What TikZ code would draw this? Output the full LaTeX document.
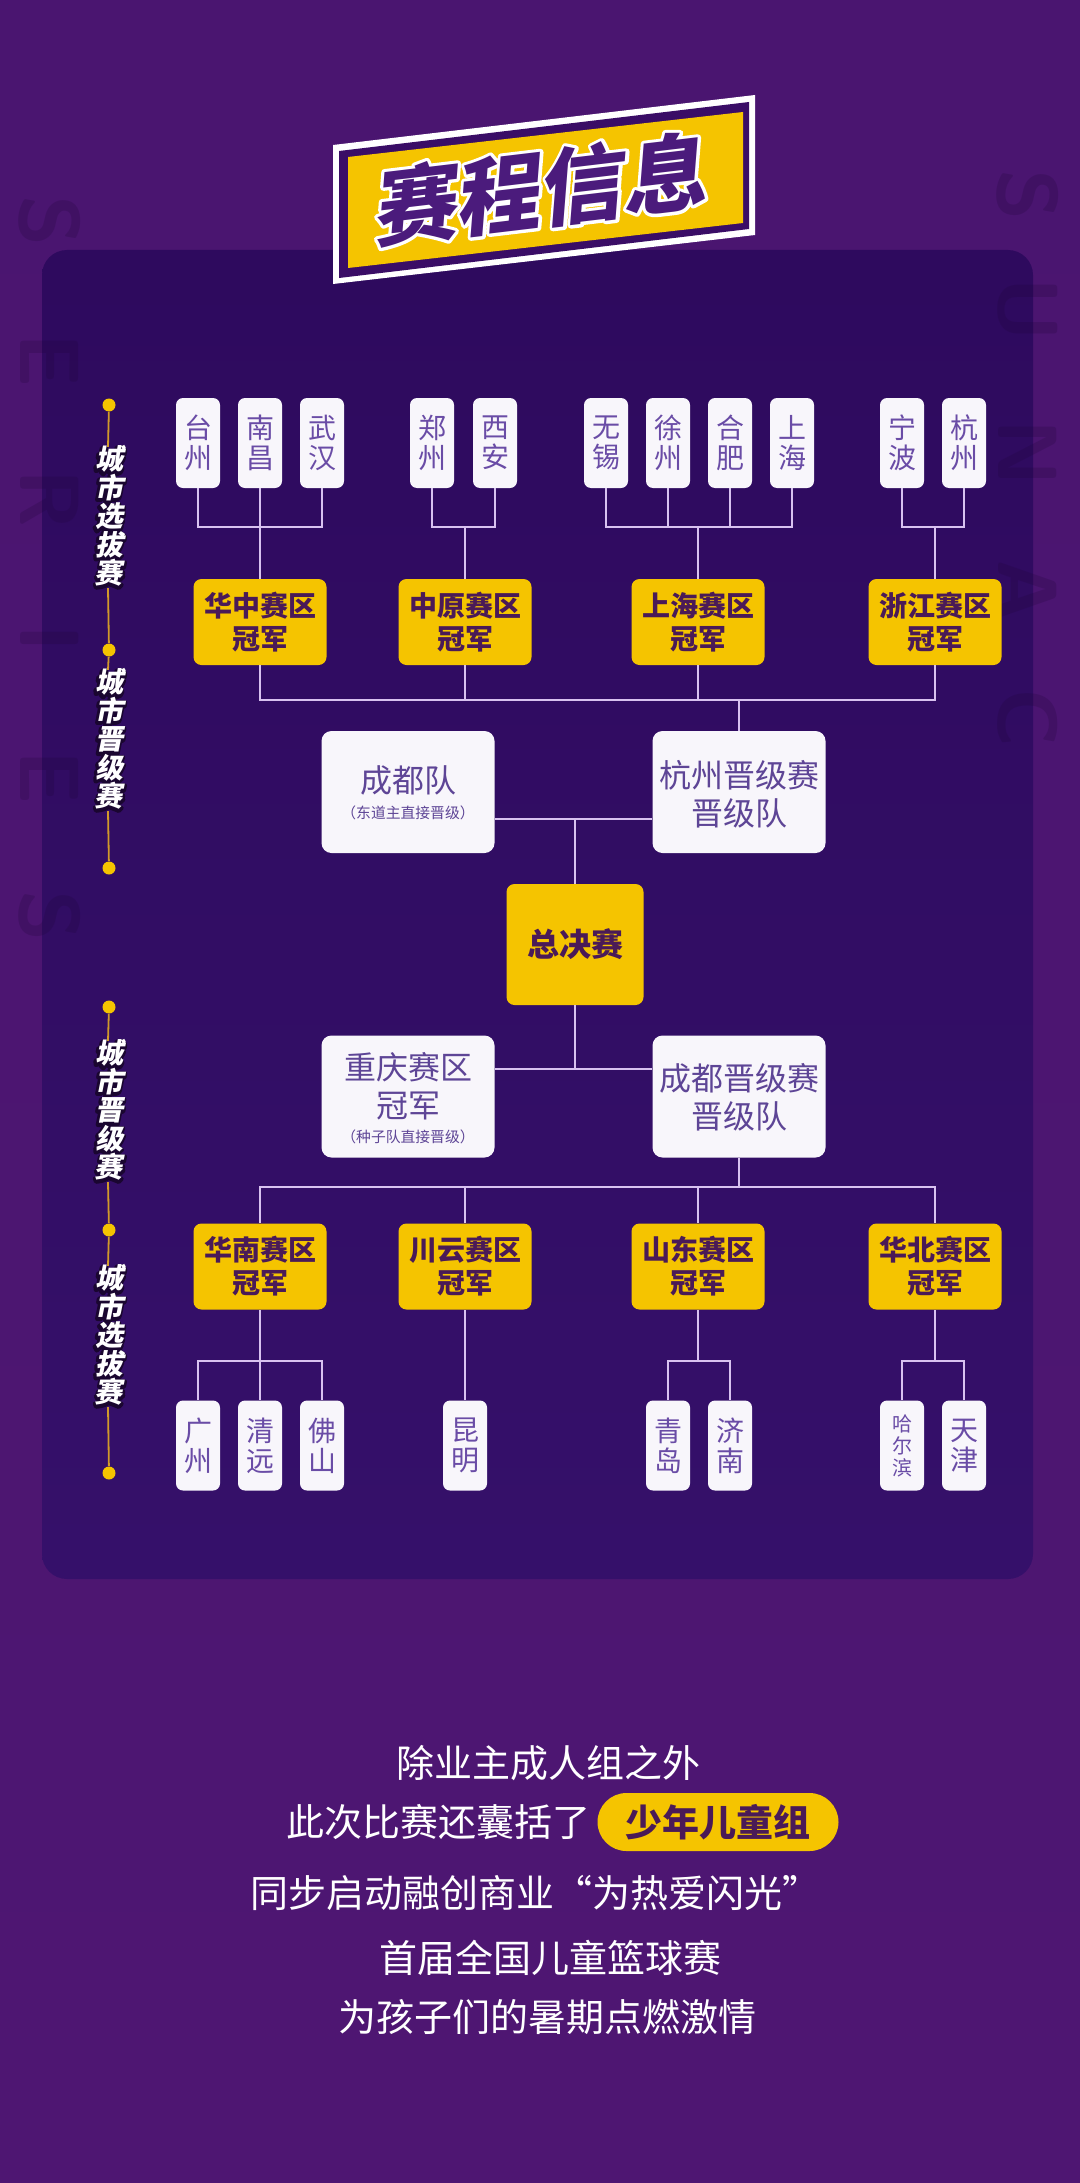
\documentclass[tikz,border=0pt]{standalone}
\usepackage{fontspec}
\usetikzlibrary{calc}
\newfontfamily\cjk{Noto Sans CJK SC}
\newfontfamily\cjks{Noto Sans CJK SC}[FakeSlant=0.2]
\newcommand\strokeon[1]{\special{pdf:literal direct 2 Tr #1 w 1 j}}
\definecolor{bgtop}{HTML}{4A1570}
\definecolor{bgbot}{HTML}{4E1672}
\definecolor{panelt}{HTML}{2E0A5E}
\definecolor{panelb}{HTML}{35106A}
\definecolor{boxw}{HTML}{F8F6FB}
\definecolor{citytxt}{HTML}{6A4CA6}
\definecolor{semitxt}{HTML}{5E4596}
\definecolor{gold}{HTML}{F5C400}
\definecolor{champtxt}{HTML}{4A1A57}
\definecolor{conn}{HTML}{D8C2F0}
\definecolor{tline}{HTML}{D29A2A}
\definecolor{titlepurple}{HTML}{4B1B7C}
\definecolor{bandp}{HTML}{3A0D66}
\definecolor{outl}{HTML}{1A0630}
\definecolor{decocol}{HTML}{1E0538}
\tikzset{
  cn/.style={draw=conn, line width=1.1pt},
  city/.style={fill=boxw, rounded corners=3.5pt, minimum width=22pt, minimum height=45pt, inner sep=0pt, text=citytxt, font=\cjk\fontsize{14}{15}\selectfont, align=center},
  citysmall/.style={city, font=\cjk\fontsize{10}{11}\selectfont},
  champ/.style={fill=gold, rounded corners=4pt, minimum width=66.5pt, minimum height=43pt, inner sep=0pt, text=champtxt, font=\cjk\bfseries\fontsize{14}{16.5}\selectfont, align=center},
  semibox/.style={fill=boxw, rounded corners=5pt, minimum width=86.5pt, minimum height=61pt, inner sep=0pt},
  semitext/.style={text=semitxt, font=\cjk\fontsize{16}{19}\selectfont, align=center, inner sep=0pt},
  semisub/.style={text=semitxt, font=\cjk\fontsize{7.4}{8}\selectfont, inner sep=0pt},
  finalbox/.style={fill=gold, rounded corners=4pt, minimum width=68.5pt, minimum height=60.5pt, inner sep=0pt, text=champtxt, font=\cjk\bfseries\fontsize{16}{16}\selectfont},
  tdot/.style={circle, fill=gold, minimum size=6.5pt, inner sep=0pt},
  tl/.style={draw=tline, line width=0.9pt},
  stage/.style={font=\cjks\bfseries\fontsize{14}{14.2}\selectfont, align=center, inner sep=0pt, text=white},
  stageo/.style={stage, text=outl},
  deco/.style={font=\sffamily\bfseries\fontsize{42}{42}\selectfont, text=decocol, opacity=0.22, inner sep=0pt, rotate=-90},
  titletxt/.style={font=\cjks\bfseries\fontsize{42}{42}\selectfont, inner sep=0pt, rotate=6.8, text=titlepurple},
  titleo/.style={titletxt, text=white},
  body/.style={text=white, font=\cjk\fontsize{19}{19}\selectfont, inner sep=0pt},
  pill/.style={fill=gold, rounded corners=14.5pt, minimum width=120.5pt, minimum height=29pt, inner sep=0pt, text=champtxt, font=\cjk\bfseries\fontsize{18.5}{18.5}\selectfont},
}
\newcommand\stagelabel[3]{%
  \node[stageo] (#1-o) at (108,#2+1.5) {\strokeon{2.2}#3};
  \node[stage] (#1) at (109,#2) {#3};
}
\begin{document}
\begin{tikzpicture}[x=0.5pt,y=-0.5pt]
\useasboundingbox (0,0) rectangle (1080,2183);
% background
\shade[top color=bgtop, bottom color=bgbot] (0,0) rectangle (1080,2183);
\shade[rounded corners=12.5pt, top color=panelt, bottom color=panelb] (42,250) rectangle (1033,1579);
% decorative letters
\foreach \ch/\yy [count=\i] in {S/221,E/360,R/499,I/638,E/777,S/916}
  \node[deco] (dl\i) at (50,\yy) {\ch};
\foreach \ch/\yy [count=\i] in {S/195,U/310,N/453,A/590,C/718}
  \node[deco] (dr\i) at (1028,\yy) {\ch};
% title banner
\fill[white] (333,145) -- (755,95) -- (755,235) -- (333,284) -- cycle;
\fill[bandp] (339,151) -- (749,102) -- (749,229) -- (339,278) -- cycle;
\fill[gold] (348,157) -- (743,112) -- (743,223) -- (348,268) -- cycle;
\node[titleo] (title-o) at (537,189) {\strokeon{3.2}赛程信息};
\node[titletxt] (title) at (537,189) {赛程信息};
% timeline
\node[tdot] (d1) at (109,405) {};
\node[tdot] (d2) at (109,650) {};
\node[tdot] (d3) at (109,868) {};
\node[tdot] (d4) at (109,1007) {};
\node[tdot] (d5) at (109,1230) {};
\node[tdot] (d6) at (109,1473) {};
\stagelabel{s1}{516}{城\\市\\选\\拔\\赛}
\stagelabel{s2}{739}{城\\市\\晋\\级\\赛}
\stagelabel{s3}{1110}{城\\市\\晋\\级\\赛}
\stagelabel{s4}{1335}{城\\市\\选\\拔\\赛}
\draw[tl] (d1) -- (s1-o.north);
\draw[tl] (s1-o.south) -- (d2);
\draw[tl] (d2) -- (s2-o.north);
\draw[tl] (s2-o.south) -- (d3);
\draw[tl] (d4) -- (s3-o.north);
\draw[tl] (s3-o.south) -- (d5);
\draw[tl] (d5) -- (s4-o.north);
\draw[tl] (s4-o.south) -- (d6);
% top cities
\node[city] (taizhou) at (198,443) {台\\州};
\node[city] (nanchang) at (260,443) {南\\昌};
\node[city] (wuhan) at (322,443) {武\\汉};
\node[city] (zhengzhou) at (432,443) {郑\\州};
\node[city] (xian) at (495,443) {西\\安};
\node[city] (wuxi) at (606,443) {无\\锡};
\node[city] (xuzhou) at (668,443) {徐\\州};
\node[city] (hefei) at (730,443) {合\\肥};
\node[city] (shanghaic) at (792,443) {上\\海};
\node[city] (ningbo) at (902,443) {宁\\波};
\node[city] (hangzhou) at (964,443) {杭\\州};
% top champions
\node[champ] (huazhong) at (260,622) {华中赛区\\冠军};
\node[champ] (zhongyuan) at (465,622) {中原赛区\\冠军};
\node[champ] (shanghai) at (698,622) {上海赛区\\冠军};
\node[champ] (zhejiang) at (935,622) {浙江赛区\\冠军};
% semis top
\node[semibox] (cdd) at (408,792) {};
\node[semitext] (cdd-t) at (408,780) {成都队};
\node[semisub] (cdd-s) at (408,813) {（东道主直接晋级）};
\node[semibox] (hzjj) at (739,792) {};
\node[semitext] (hzjj-t) at (739,794) {杭州晋级赛\\晋级队};
% final
\node[finalbox] (final) at (575,944.5) {总决赛};
% semis bottom
\node[semibox] (cq) at (408,1096.5) {};
\node[semitext] (cq-t) at (408,1086) {重庆赛区\\冠军};
\node[semisub] (cq-s) at (408,1137) {（种子队直接晋级）};
\node[semibox] (cdjj) at (739,1096.5) {};
\node[semitext] (cdjj-t) at (739,1097) {成都晋级赛\\晋级队};
% bottom champions
\node[champ] (huanan) at (260,1266.5) {华南赛区\\冠军};
\node[champ] (chuanyun) at (465,1266.5) {川云赛区\\冠军};
\node[champ] (shandong) at (698,1266.5) {山东赛区\\冠军};
\node[champ] (huabei) at (935,1266.5) {华北赛区\\冠军};
% bottom cities
\node[city] (guangzhou) at (198,1445.5) {广\\州};
\node[city] (qingyuan) at (260,1445.5) {清\\远};
\node[city] (foshan) at (322,1445.5) {佛\\山};
\node[city] (kunming) at (465,1445.5) {昆\\明};
\node[city] (qingdao) at (668,1445.5) {青\\岛};
\node[city] (jinan) at (730,1445.5) {济\\南};
\node[citysmall] (harbin) at (902,1445.5) {哈\\尔\\滨};
\node[city] (tianjin) at (964,1445.5) {天\\津};
% bracket levels
\coordinate (y1) at (0,527);
\coordinate (y2) at (0,700);
\coordinate (y3) at (0,819);
\coordinate (y4) at (0,1069);
\coordinate (y5) at (0,1187);
\coordinate (y6) at (0,1361);
% connectors top
\draw[cn] (taizhou.south) |- (wuhan.south |- y1) -- (wuhan.south);
\draw[cn] (nanchang.south) -- (huazhong.north);
\draw[cn] (zhengzhou.south) |- (xian.south |- y1) -- (xian.south);
\draw[cn] (zhongyuan.north) -- (zhongyuan.north |- y1);
\draw[cn] (wuxi.south) |- (shanghaic.south |- y1) -- (shanghaic.south);
\draw[cn] (xuzhou.south) -- (xuzhou.south |- y1);
\draw[cn] (hefei.south) -- (hefei.south |- y1);
\draw[cn] (shanghai.north) -- (shanghai.north |- y1);
\draw[cn] (ningbo.south) |- (hangzhou.south |- y1) -- (hangzhou.south);
\draw[cn] (zhejiang.north) -- (zhejiang.north |- y1);
\draw[cn] (huazhong.south) |- (zhejiang.south |- y2) -- (zhejiang.south);
\draw[cn] (zhongyuan.south) -- (zhongyuan.south |- y2);
\draw[cn] (shanghai.south) -- (shanghai.south |- y2);
\draw[cn] (hzjj.north) -- (hzjj.north |- y2);
\draw[cn] (cdd.east |- y3) -- (hzjj.west |- y3);
\draw[cn] (final.north) -- (final.north |- y3);
% connectors bottom
\draw[cn] (cq.east |- y4) -- (cdjj.west |- y4);
\draw[cn] (final.south) -- (final.south |- y4);
\draw[cn] (huanan.north) |- (huabei.north |- y5) -- (huabei.north);
\draw[cn] (chuanyun.north) -- (chuanyun.north |- y5);
\draw[cn] (shandong.north) -- (shandong.north |- y5);
\draw[cn] (cdjj.south) -- (cdjj.south |- y5);
\draw[cn] (guangzhou.north) |- (foshan.north |- y6) -- (foshan.north);
\draw[cn] (qingyuan.north) -- (huanan.south);
\draw[cn] (kunming.north) -- (chuanyun.south);
\draw[cn] (qingdao.north) |- (jinan.north |- y6) -- (jinan.north);
\draw[cn] (shandong.south) -- (shandong.south |- y6);
\draw[cn] (harbin.north) |- (tianjin.north |- y6) -- (tianjin.north);
\draw[cn] (huabei.south) -- (huabei.south |- y6);
% bottom text
\node[body] (l1) at (548,1763) {除业主成人组之外};
\node[body] (l2) at (438,1822) {此次比赛还囊括了};
\node[pill] (pill) at (718,1822) {少年儿童组};
\node[body] (l3) at (535,1893) {同步启动融创商业“为热爱闪光”};
\node[body] (l4) at (550,1958) {首届全国儿童篮球赛};
\node[body] (l5) at (547,2017) {为孩子们的暑期点燃激情};
\end{tikzpicture}
\end{document}
